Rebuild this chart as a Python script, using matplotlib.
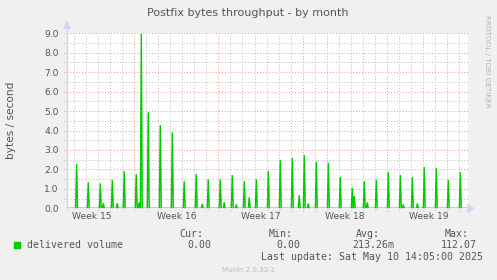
import matplotlib
matplotlib.use("Agg")
import matplotlib.pyplot as plt
from matplotlib.patches import Polygon, Rectangle

W, H = 497, 280

# x values are days since Mon 2025-04-07 00:00 (start of week 15)
peak_day = [2.20, 3.17, 4.17, 5.17, 6.16, 7.16, 7.58, 8.16, 9.16, 10.16,
            11.15, 12.15, 13.15, 14.15, 15.15, 16.15, 16.56, 17.15, 18.15,
            19.14, 20.14, 20.72, 21.14, 22.14, 23.14, 24.13, 25.13, 25.30,
            26.13, 27.13, 28.13, 29.13, 30.13, 31.12, 32.12, 33.12, 34.12]
peak_value = [2.28, 1.34, 1.29, 1.46, 1.92, 1.76, 8.97, 4.94, 4.28, 3.90,
              1.39, 1.76, 1.49, 1.49, 1.71, 1.39, 0.57, 1.49, 1.92,
              2.48, 2.59, 0.68, 2.74, 2.38, 2.33, 1.61, 1.04, 0.63,
              1.40, 1.46, 1.87, 1.71, 1.61, 2.12, 2.07, 1.46, 1.87]
bump_day = [4.42, 5.58, 7.40, 12.65, 14.48, 15.48, 21.47, 26.38, 29.38, 30.55]
bump_value = [0.26, 0.26, 0.30, 0.22, 0.30, 0.20, 0.25, 0.30, 0.20, 0.25]

week_labels = ["Week 15", "Week 16", "Week 17", "Week 18", "Week 19"]
week_starts = [7, 14, 21, 28]
y_ticks = [0.0, 1.0, 2.0, 3.0, 4.0, 5.0, 6.0, 7.0, 8.0, 9.0]

legend_label = "delivered volume"
stat_names = ["Cur:", "Min:", "Avg:", "Max:"]
stat_values = ["0.00", "0.00", "213.26m", "112.07"]
last_update = "Last update: Sat May 10 14:05:00 2025"

GREEN = "#00cc00"
FONT = "#555555"
AXIS = "#cfd6f8"
GRID = "#bbbbbb"
MGRID = "#f09090"

X0, X1 = 1.40, 34.76


def fx(px):
    return px / W


def fy(py):
    return 1 - py / H


fig = plt.figure(figsize=(W / 100, H / 100), dpi=100, facecolor="#f0f0f0")
ax = fig.add_axes([fx(67), fy(208.3), 401 / W, 175 / H])
ax.set_facecolor("white")
ax.set_xlim(X0, X1)
ax.set_ylim(0, 9)
for s in ax.spines.values():
    s.set_visible(False)

# grid
dot = (0, (1, 2))
ext = 0.25
for v in [i + 0.5 for i in range(9)]:
    ax.plot([X0 - ext, X1], [v, v], color=GRID, lw=0.7, ls=dot, clip_on=False, zorder=1)
for v in y_ticks[1:]:
    ax.plot([X0 - ext, X1], [v, v], color=MGRID, lw=0.7, ls=dot, clip_on=False, zorder=2)
for d in range(2, 35):
    if d not in week_starts:
        ax.plot([d, d], [-0.15, 9], color=GRID, lw=0.7, ls=dot, clip_on=False, zorder=1)
for d in week_starts:
    ax.plot([d, d], [-0.15, 9], color=MGRID, lw=0.7, ls=dot, clip_on=False, zorder=2)

# series: narrow spikes on a zero baseline
events = sorted(zip(peak_day + bump_day, peak_value + bump_value))
hw = 0.08
xs, ys = [X0], [0.0]
for d, v in events:
    xs += [d - hw, d, d + hw]
    ys += [0.0, v, 0.0]
xs.append(X1)
ys.append(0.0)
ax.fill_between(xs, ys, color=GREEN, alpha=0.3, lw=0, zorder=3)
ax.plot(xs, ys, color=GREEN, lw=1.0, zorder=4, solid_joinstyle="miter")

# axes lines with arrows
ax.plot([X0, X0], [0, 9.25], color=AXIS, lw=1, clip_on=False, zorder=5)
ax.add_patch(Polygon([[X0 - 0.25, 9.25], [X0 + 0.25, 9.25], [X0, 9.6]],
                     closed=True, color=AXIS, clip_on=False, zorder=5))
ax.add_patch(Polygon([[X1, -0.2], [X1, 0.2], [X1 + 0.45, 0]],
                     closed=True, color=AXIS, clip_on=False, zorder=5))

ax.set_yticks(y_ticks)
ax.set_yticklabels([f"{v:.1f}" for v in y_ticks])
ax.set_xticks([3.5, 10.5, 17.5, 24.5, 31.5])
ax.set_xticklabels(week_labels)
ax.tick_params(length=0, labelsize=6.6, colors=FONT)
ax.tick_params(axis="y", pad=6)
ax.tick_params(axis="x", pad=3)

fig.text(fx(248), fy(13), "Postfix bytes throughput - by month", ha="center",
         va="center", fontsize=8, color=FONT)
fig.text(fx(11), fy(120), "bytes / second", rotation=90, ha="center",
         va="center", fontsize=7.6, color=FONT)
fig.text(fx(487), fy(61), "RRDTOOL / TOBI OETIKER", rotation=270, ha="center",
         va="center", fontsize=5.2, color="#b4b4b4")

# legend
fig.patches.append(Rectangle((fx(14), fy(248)), 6 / W, 6 / H, color=GREEN,
                             transform=fig.transFigure))
mono = dict(family="DejaVu Sans Mono", fontsize=7.1, color=FONT, va="center")
fig.text(fx(26.7), fy(245.5), legend_label, ha="left", **mono)
for name, x in zip(stat_names, [203, 293, 380, 469]):
    fig.text(fx(x), fy(234), name, ha="right", **mono)
for val, x in zip(stat_values, [211, 300, 394, 477]):
    fig.text(fx(x), fy(245.5), val, ha="right", **mono)
fig.text(fx(483.3), fy(257.5), last_update, ha="right", **mono)
fig.text(fx(248.5), fy(269.5), "Munin 2.0.33-1", ha="center", va="center",
         fontsize=5, color="#bbbbbb")

fig.savefig("out.png", dpi=100, facecolor=fig.get_facecolor())
